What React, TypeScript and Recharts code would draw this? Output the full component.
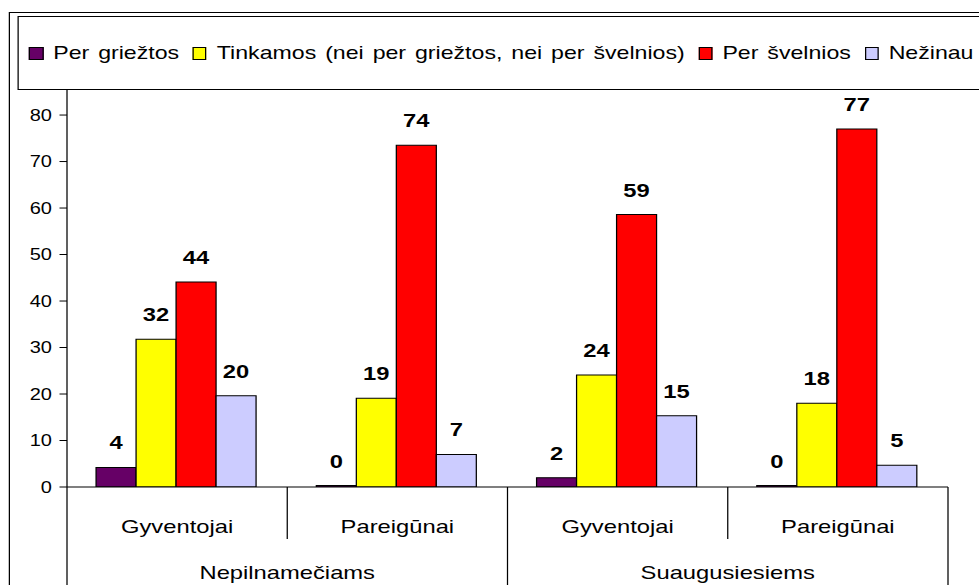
import React from 'react';
import { BarChart, Bar, XAxis, YAxis, Legend, LabelList } from 'recharts';

// values (labels are rounded)
const categories = ['Gyventojai', 'Pareigūnai', 'Gyventojai', 'Pareigūnai'];
const groups = ['Nepilnamečiams', 'Suaugusiesiems'];
const perGriestos = [4.2, 0.3, 2.0, 0.3];
const tinkamos = [31.8, 19.1, 24.1, 18.0];
const perSvelnios = [44.1, 73.5, 58.6, 77.0];
const nezinau = [19.6, 7.0, 15.3, 4.7];
const yTicks = [0, 10, 20, 30, 40, 50, 60, 70, 80];

const series = [
  { key: 'perGriestos', name: 'Per griežtos', color: '#660066' },
  { key: 'tinkamos', name: 'Tinkamos (nei per griežtos, nei per švelnios)', color: '#FFFF00' },
  { key: 'perSvelnios', name: 'Per švelnios', color: '#FF0000' },
  { key: 'nezinau', name: 'Nežinau', color: '#CCCCFF' },
];

const data = categories.map((c, i) => ({
  id: i,
  name: c,
  group: groups[Math.floor(i / 2)],
  perGriestos: perGriestos[i],
  tinkamos: tinkamos[i],
  perSvelnios: perSvelnios[i],
  nezinau: nezinau[i],
}));

// the source picture is stretched horizontally, so the chart is drawn narrow and scaled
const STRETCH = 1.25;
const CHART_W = 783;
const CHART_H = 585;
const MARGIN = { top: 89, right: 24.6, left: 0, bottom: 0 };
const YAXIS_W = 53.6;
const PLOT_W = CHART_W - MARGIN.left - MARGIN.right - YAXIS_W;
const BAND = PLOT_W / categories.length;
const FONT = '"Liberation Sans", Arial, sans-serif';

function CategoryTick(props: any) {
  const { x, y, index } = props;
  const half = BAND / 2;
  const even = index % 2 === 0;
  return (
    <g>
      {index === 0 && <line x1={x - half} x2={x - half} y1={y} y2={y + 120} stroke="#000" />}
      <line x1={x + half} x2={x + half} y1={y} y2={even ? y + 52 : y + 120} stroke="#000" />
      <text x={x} y={y + 39} dy="0.35em" textAnchor="middle" fontSize={19} fill="#000" fontFamily={FONT}>
        {categories[index]}
      </text>
      {even && (
        <text x={x + half} y={y + 85} dy="0.35em" textAnchor="middle" fontSize={19} fill="#000" fontFamily={FONT}>
          {groups[index / 2]}
        </text>
      )}
    </g>
  );
}

// legend drawn from the series list so the order stays as in the source
function renderLegend() {
  return (
    <div
      style={{
        boxSizing: 'border-box',
        width: '100%',
        height: '100%',
        border: '1px solid #000',
        display: 'flex',
        alignItems: 'center',
        paddingLeft: 8,
        fontFamily: FONT,
        fontSize: 18.5,
        wordSpacing: 2,
        color: '#000',
        whiteSpace: 'nowrap',
      }}
    >
      {series.map((s) => (
        <div key={s.key} style={{ display: 'flex', alignItems: 'center', marginRight: 11 }}>
          <span
            style={{
              display: 'inline-block',
              boxSizing: 'border-box',
              width: 11.2,
              height: 13,
              background: s.color,
              border: '1px solid #000',
              marginRight: 8,
            }}
          />
          <span>{s.name}</span>
        </div>
      ))}
    </div>
  );
}

export default function App() {
  return (
    <div style={{ position: 'absolute', left: 0, top: 0, width: 979, height: 585, overflow: 'hidden', background: '#fff' }}>
      <div style={{ position: 'absolute', left: 0, top: 0, width: CHART_W, height: CHART_H, transform: `scaleX(${STRETCH})`, transformOrigin: '0 0' }}>
        <div style={{ position: 'absolute', left: 7.2, top: 12, width: 900, height: 700, border: '1px solid #000' }} />
        <BarChart
          width={CHART_W}
          height={CHART_H}
          data={data}
          margin={MARGIN}
          barCategoryGap="13.2%"
          barGap={0}
        >
          <XAxis
            dataKey="id"
            height={98}
            axisLine={{ stroke: '#000' }}
            tickLine={false}
            tickSize={0}
            tickMargin={0}
            interval={0}
            tick={<CategoryTick />}
          />
          <YAxis
            domain={[0, 85.6]}
            ticks={yTicks}
            interval={0}
            width={YAXIS_W}
            allowDataOverflow
            axisLine={{ stroke: '#000' }}
            tickLine={{ stroke: '#000' }}
            tickSize={6}
            tickMargin={6}
            tick={{ fontSize: 16, fill: '#000', fontFamily: FONT }}
          />
          <Legend
            layout="horizontal"
            verticalAlign="middle"
            align="center"
            content={renderLegend}
            wrapperStyle={{ position: 'absolute', left: 14.4, top: 16, width: 800, height: 74 }}
          />
          {series.map((s) => (
            <Bar key={s.key} dataKey={s.key} name={s.name} fill={s.color} stroke="#000" strokeWidth={1} isAnimationActive={false}>
              <LabelList
                dataKey={s.key}
                position="top"
                offset={18}
                formatter={(v: any) => Math.round(Number(v))}
                style={{ fontSize: 19, fontWeight: 'bold', fill: '#000', fontFamily: FONT }}
              />
            </Bar>
          ))}
        </BarChart>
      </div>
    </div>
  );
}
